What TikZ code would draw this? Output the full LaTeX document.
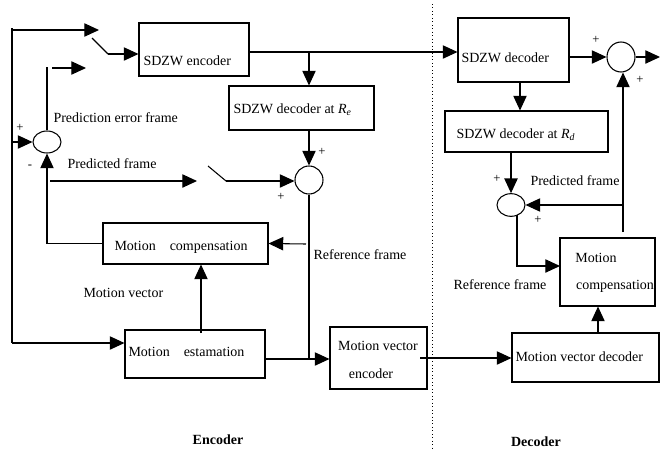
\documentclass[tikz,border=0pt]{standalone}
\usepackage{fontspec}
\setmainfont{Liberation Serif}
\usetikzlibrary{arrows.meta,fit,shapes.geometric,positioning}

\begin{document}
\begin{tikzpicture}[x=0.75pt,y=-0.75pt,line width=0.8pt,
  font=\fontsize{10.5}{12}\selectfont,
  blk/.style={draw,rectangle,inner sep=0pt},
  sumc/.style={draw,ellipse,inner sep=0pt,minimum width=21pt},
  txt/.style={inner sep=0pt,anchor=west},
  sgn/.style={inner sep=0pt,font=\fontsize{9.5}{9.5}\selectfont},
  arr/.style={-{Triangle[length=11pt,width=10pt]}}]

  \useasboundingbox (0,0) rectangle (661,450);

  % \draw[step=50,thin,gray] (0,0) grid (661,450);
  % encoder blocks
  \node (enc) [blk, fit={(139,23) (249,76)}] {};
  \node (dre) [blk, fit={(229,86) (374,130)}] {};
  \node (mc)  [blk, fit={(103,223) (268,264)}] {};
  \node (me)  [blk, fit={(125,330) (265,378)}] {};
  \node (mve) [blk, fit={(330,327) (427,389)}] {};
  % decoder blocks
  \node (dec) [blk, fit={(458,18) (569,82)}] {};
  \node (drd) [blk, fit={(445,111) (608,152)}] {};
  \node (mcd) [blk, fit={(560,238) (655,306)}] {};
  \node (mvd) [blk, fit={(512,333) (659,382)}] {};

  \node (s1) [sumc, minimum height=16.5pt] at (47,142) {};
  \node (s2) [sumc, minimum height=21pt] at (309,180) {};
  \node (s3) [sumc, minimum height=22.5pt] at (621,57) {};
  \node (s4) [sumc, minimum height=17pt] at (511,205) {};

  % block texts
  \node (tenc) [txt] at (143,61) {SDZW encoder};
  \node (tdre) [txt] at (233,110) {SDZW decoder at \textit{R}\textsubscript{\textit{e}}};
  \node (tmc)  [txt] at (114,247) {Motion\quad compensation};
  \node (tme)  [txt] at (128,352) {Motion\quad estamation};
  \node (tmve) at (378,346) {Motion vector};
  \node (tmve2) at (371,374) {encoder};
  \node (tdec) [txt] at (461,58) {SDZW decoder};
  \node (tdrd) [txt] at (456,135) {SDZW decoder at \textit{R}\textsubscript{\textit{d}}};
  \node (tmcd) at (596,258) {Motion};
  \node (tmcd2) at (615,286) {compensation};
  \node (tmvd) [txt] at (515,357) {Motion vector decoder};

  % labels
  \node (lpe)  [txt] at (53,118) {Prediction error frame};
  \node (lpf)  [txt] at (67,164) {Predicted frame};
  \node (lrf)  [txt] at (313,255) {Reference frame};
  \node (lmv)  [txt] at (83,293) {Motion vector};
  \node (lpfd) [txt] at (530,181) {Predicted frame};
  \node (lrfd) [txt] at (453,285) {Reference frame};
  \node (lenc) [font=\fontsize{10.5}{12}\selectfont\bfseries] at (218,440) {Encoder};
  \node (ldec) [font=\fontsize{10.5}{12}\selectfont\bfseries] at (536,442) {Decoder};

  \node (p1) [sgn] at (20,128) {+};
  \node (m1) [sgn] at (30,167) {-};
  \node (p2) [sgn] at (322,152) {+};
  \node (p3) [sgn] at (281,197) {+};
  \node (p4) [sgn] at (596,40) {+};
  \node (p5) [sgn] at (640,80) {+};
  \node (p6) [sgn] at (497,179) {+};
  \node (p7) [sgn] at (538,220) {+};

  % input and switch
  \coordinate (in) at (12,30);
  \coordinate (inme) at (12,343);
  \coordinate (sw1) at (99,30);
  \coordinate (sw1a) at (92,38);
  \coordinate (sw1b) at (108,54);
  \draw[arr] (in) -- (sw1);
  \draw (12,28) -- (inme);
  \draw[arr] (inme) -- (me.west |- inme);
  \draw[arr] (in |- s1.west) -- (s1.west);
  \draw (sw1a) -- (sw1b);
  \draw[arr] (sw1b) -- (enc.west |- sw1b);

  % prediction error
  \coordinate (pe) at (47,67);
  \coordinate (pea) at (52,68);
  \coordinate (peb) at (86,68);
  \draw (s1.north) -- (pe);
  \draw[arr] (pea) -- (peb);

  % to decoder side
  \coordinate (eo) at (249,52);
  \coordinate (ebr) at (309,52);
  \draw[arr] (eo) -- (dec.west |- eo);
  \draw[arr] (ebr) -- (ebr |- dre.north);
  \draw[arr] (s2.north |- dre.south) -- (s2.north);

  % predicted frame and second switch
  \coordinate (pf) at (50,181);
  \coordinate (sw2) at (197,181);
  \coordinate (sw2a) at (208,166);
  \coordinate (sw2b) at (226,181);
  \draw[arr] (pf) -- (sw2);
  \draw (sw2a) -- (sw2b);
  \draw[arr] (sw2b) -- (s2.west |- sw2b);

  % reference frame, motion
  \coordinate (jn) at (309,359);
  \coordinate (rf) at (306,244);
  \coordinate (mv) at (201,333);
  \coordinate (mvo) at (420,358);
  \draw (s2.south) -- (jn);
  \draw[arr] (me.east |- jn) -- (mve.west |- jn);
  \draw[arr] (rf) -- (mc.east);
  \draw[arr] (mc.west) -| (s1.south);
  \draw[arr] (mv) -- (mv |- mc.south);
  \draw[arr] (mvo) -- (mvd.west |- mvo);

  % decoder
  \coordinate (out) at (660,57);
  \coordinate (dd) at (520,82);
  \coordinate (fb) at (623,232);
  \coordinate (rfd) at (517,215);
  \coordinate (mcdin) at (560,266);
  \coordinate (mvu) at (598,333);
  \draw[arr] (dec.east |- s3.west) -- (s3.west);
  \draw[arr] (s3.east) -- (out);
  \draw[arr] (dd) -- (dd |- drd.north);
  \draw[arr] (s4.north |- drd.south) -- (s4.north);
  \draw[arr] (fb) -- (fb |- s3.south);
  \draw[arr] (fb |- s4.east) -- (s4.east);
  \draw[arr] (rfd) |- (mcdin);
  \draw[arr] (mvu) -- (mvu |- mcd.south);

  \draw[dotted,line width=0.6pt] (432,4) -- (432,450);

\end{tikzpicture}
\end{document}
